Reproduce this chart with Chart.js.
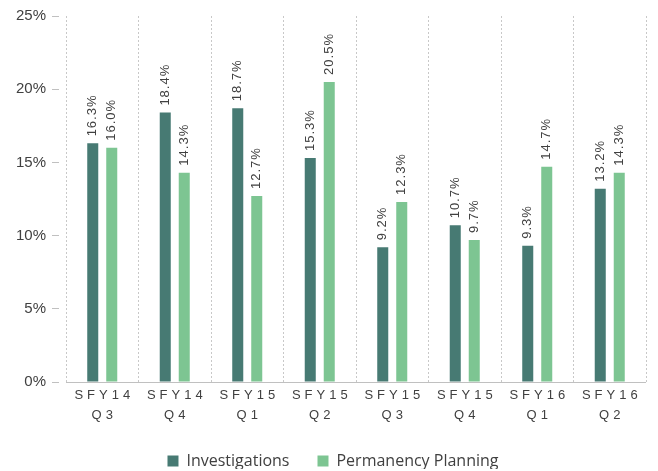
<!DOCTYPE html>
<html>
<head>
<meta charset="utf-8">
<script src="https://cdn.jsdelivr.net/npm/chart.js@4/dist/chart.umd.min.js"></script>
<style>
  html, body { margin: 0; padding: 0; background: #fff; }
  #wrap { width: 658px; height: 471px; position: relative; }
</style>
</head>
<body>
<div id="wrap"><canvas id="c" width="658" height="471"></canvas></div>
<script>
const categoryYears = ['SFY14', 'SFY14', 'SFY15', 'SFY15', 'SFY15', 'SFY15', 'SFY16', 'SFY16'];
const categoryQuarters = ['Q3', 'Q4', 'Q1', 'Q2', 'Q3', 'Q4', 'Q1', 'Q2'];
const investigations = [16.3, 18.4, 18.7, 15.3, 9.2, 10.7, 9.3, 13.2];
const permanencyPlanning = [16.0, 14.3, 12.7, 20.5, 12.3, 9.7, 14.7, 14.3];
const yTicks = [0, 5, 10, 15, 20, 25];

const FONT = "'Liberation Sans', 'DejaVu Sans', sans-serif";
const LEGEND_FONT = "'Open Sans', 'Liberation Sans', sans-serif";
const labels = categoryYears.map((y, i) => [y, categoryQuarters[i]]);

const valueLabels = {
  id: 'valueLabels',
  afterDatasetsDraw(chart) {
    const ctx = chart.ctx;
    ctx.save();
    ctx.fillStyle = '#404040';
    ctx.font = '13px ' + FONT;
    try { ctx.letterSpacing = '1px'; } catch (e) {}
    ctx.textAlign = 'left';
    ctx.textBaseline = 'middle';
    chart.data.datasets.forEach((ds, di) => {
      const meta = chart.getDatasetMeta(di);
      meta.data.forEach((el, i) => {
        ctx.save();
        ctx.translate(el.x, el.y - 7);
        ctx.rotate(-Math.PI / 2);
        ctx.fillText(ds.data[i].toFixed(1) + '%', 0, 0);
        ctx.restore();
      });
    });
    ctx.restore();
  }
};

const xLabels = {
  id: 'xLabels',
  afterDraw(chart) {
    const ctx = chart.ctx;
    const xs = chart.scales.x;
    ctx.save();
    ctx.fillStyle = '#404040';
    ctx.font = '13px ' + FONT;
    try { ctx.letterSpacing = '4px'; } catch (e) {}
    ctx.textAlign = 'center';
    ctx.textBaseline = 'middle';
    chart.data.labels.forEach((lab, i) => {
      const x = xs.getPixelForTick(i) + 2;
      ctx.fillText(lab[0], x, chart.chartArea.bottom + 13);
      ctx.fillText(lab[1], x, chart.chartArea.bottom + 33);
    });
    ctx.restore();
  }
};

const legendShift = {
  id: 'legendShift',
  afterLayout(chart) {
    if (chart.legend) { chart.legend.left += 20; }
  }
};

new Chart(document.getElementById('c'), {
  type: 'bar',
  data: {
    labels: labels,
    datasets: [
      {
        label: 'Investigations',
        data: investigations,
        backgroundColor: '#477a73',
        categoryPercentage: 0.524,
        barPercentage: 0.58
      },
      {
        label: 'Permanency Planning',
        data: permanencyPlanning,
        backgroundColor: '#7dc592',
        categoryPercentage: 0.524,
        barPercentage: 0.58
      }
    ]
  },
  options: {
    responsive: false,
    animation: false,
    devicePixelRatio: 1,
    layout: { padding: { left: 0, right: 12, top: 16, bottom: 2 } },
    plugins: {
      legend: {
        position: 'bottom',
        maxHeight: 44,
        labels: {
          boxWidth: 11,
          boxHeight: 11,
          padding: 28,
          color: '#404040',
          font: { family: LEGEND_FONT, size: 16 }
        }
      },
      tooltip: { enabled: false }
    },
    scales: {
      x: {
        offset: true,
        grid: {
          offset: true,
          color: '#c8c8c8',
          lineWidth: 1,
          drawTicks: false
        },
        border: { display: false, dash: [2, 2] },
        ticks: { display: false },
        afterFit(scale) { scale.height = 43; }
      },
      y: {
        min: 0,
        max: 25,
        afterBuildTicks(scale) { scale.ticks = yTicks.map(v => ({ value: v })); },
        afterFit(scale) { scale.width = 66; },
        grid: {
          color: ctx => (ctx.tick && ctx.tick.value === 0) ? '#c0c0c0' : 'rgba(0,0,0,0)',
          tickColor: '#c0c0c0',
          tickLength: 14,
          tickBorderDash: [7, 30]
        },
        border: { display: false },
        ticks: {
          padding: 6,
          color: '#404040',
          font: { family: FONT, size: 15 },
          callback: v => v + '%'
        }
      }
    }
  },
  plugins: [valueLabels, xLabels, legendShift]
});
</script>
</body>
</html>
